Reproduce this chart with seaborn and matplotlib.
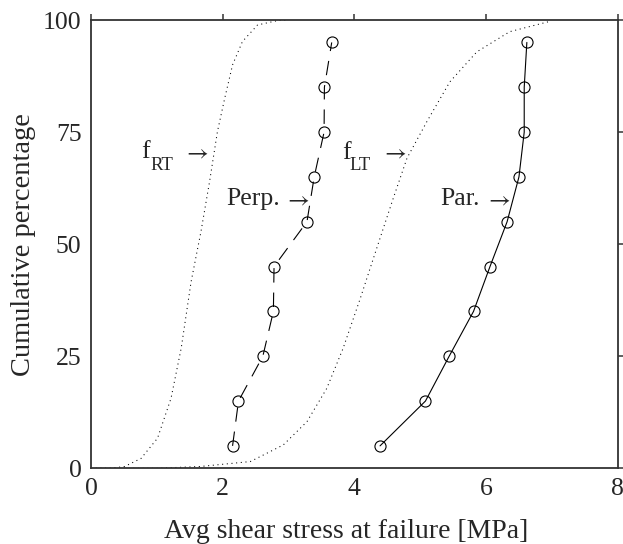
import matplotlib
matplotlib.use("Agg")
import matplotlib.pyplot as plt
import seaborn as sns
import pandas as pd

# ---- data ----
pct = [5, 15, 25, 35, 45, 55, 65, 75, 85, 95]
perp_stress = [2.15, 2.24, 2.61, 2.77, 2.78, 3.28, 3.39, 3.54, 3.545, 3.656]
par_stress = [4.39, 5.08, 5.44, 5.81, 6.06, 6.32, 6.50, 6.58, 6.58, 6.62]

f_rt_x = [0.0, 0.30, 0.51, 0.76, 1.01, 1.215, 1.37, 1.52, 1.67, 1.80, 1.92, 2.03, 2.15, 2.30, 2.53, 2.84, 3.0]
f_rt_y = [0.0, 0.0, 0.4, 2.2, 6.7, 15.6, 26.8, 41.6, 52.8, 63.9, 75.1, 82.5, 90.0, 95.2, 98.9, 99.9, 100.0]

f_lt_x = [0.0, 1.0, 1.66, 2.42, 2.92, 3.28, 3.58, 3.83, 4.09, 4.34, 4.59, 4.80, 5.10, 5.45, 5.86, 6.36, 6.97]
f_lt_y = [0.0, 0.0, 0.4, 1.5, 5.2, 10.4, 17.8, 26.8, 37.9, 49.1, 60.2, 69.2, 77.3, 86.2, 92.9, 97.4, 99.7]

x_ticks = [0, 2, 4, 6, 8]
y_ticks = [0, 25, 50, 75, 100]

perp_df = pd.DataFrame({"stress": perp_stress, "pct": pct})
par_df = pd.DataFrame({"stress": par_stress, "pct": pct})
frt_df = pd.DataFrame({"stress": f_rt_x, "pct": f_rt_y})
flt_df = pd.DataFrame({"stress": f_lt_x, "pct": f_lt_y})

sns.set_style("white")
plt.rcParams["font.family"] = ["Liberation Serif", "DejaVu Serif"]
plt.rcParams["mathtext.fontset"] = "stix"
plt.rcParams["font.size"] = 18

fig = plt.figure(figsize=(6.23, 5.44), dpi=100)
ax = fig.add_axes([0.1461, 0.1392, 0.9915 - 0.1461, 0.9632 - 0.1392])

dot = (0, (1, 3.5))
sns.lineplot(data=frt_df, x="stress", y="pct", ax=ax, sort=False, estimator=None,
             color="black", lw=0.75, ls=dot)
sns.lineplot(data=flt_df, x="stress", y="pct", ax=ax, sort=False, estimator=None,
             color="black", lw=0.75, ls=dot)
sns.lineplot(data=perp_df, x="stress", y="pct", ax=ax, sort=False, estimator=None,
             color="black", lw=0.8, ls=(0, (13, 9)), marker="o", markersize=8,
             markerfacecolor="none", markeredgecolor="black", markeredgewidth=0.8)
sns.lineplot(data=par_df, x="stress", y="pct", ax=ax, sort=False, estimator=None,
             color="black", lw=0.8, ls="-", marker="o", markersize=8,
             markerfacecolor="none", markeredgecolor="black", markeredgewidth=0.8)

ax.set_xlim(0, 8)
ax.set_ylim(0, 100)
ax.set_xticks(x_ticks)
ax.set_yticks(y_ticks)
ax.set_xticklabels([str(v) for v in x_ticks])
ax.set_yticklabels([str(v) for v in y_ticks])
ax.tick_params(which="both", direction="out", top=True, right=True,
               labeltop=False, labelright=False, length=4.4, width=1.1,
               color="#333333", labelsize=18.5, pad=2.5)
for s in ax.spines.values():
    s.set_color("#333333")
    s.set_linewidth(1.3)

ax.set_xlabel("Avg shear stress at failure [MPa]", fontsize=20)
ax.set_ylabel("Cumulative percentage", fontsize=20.5)
ax.xaxis.set_label_coords(0.484, -0.113)
ax.yaxis.set_label_coords(-0.104, 0.5)

ann_fs = 18.5
sub_fs = 13.5
# f_RT label
ax.text(0.76, 69.2, "f", fontsize=ann_fs, ha="left", va="baseline")
ax.text(0.905, 66.6, "RT", fontsize=sub_fs, ha="left", va="baseline")
ax.text(1.40, 69.2, r"$\rightarrow$", fontsize=17, ha="left", va="baseline")
# f_LT label
ax.text(3.81, 69.1, "f", fontsize=ann_fs, ha="left", va="baseline")
ax.text(3.93, 66.5, "LT", fontsize=sub_fs, ha="left", va="baseline")
ax.text(4.40, 69.1, r"$\rightarrow$", fontsize=17, ha="left", va="baseline")
# Perp. / Par. labels
ax.text(2.06, 58.7, "Perp.", fontsize=ann_fs, ha="left", va="baseline")
ax.text(2.935, 58.7, r"$\rightarrow$", fontsize=17, ha="left", va="baseline")
ax.text(5.30, 58.7, "Par.", fontsize=ann_fs, ha="left", va="baseline")
ax.text(5.99, 58.7, r"$\rightarrow$", fontsize=17, ha="left", va="baseline")

fig.savefig("out.png", dpi=100)
